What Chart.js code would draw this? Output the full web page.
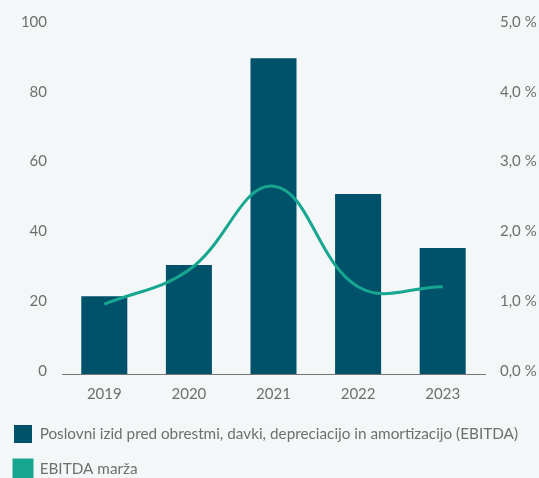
<!DOCTYPE html>
<html>
<head>
<meta charset="utf-8">
<script src="https://cdn.jsdelivr.net/npm/chart.js@4"></script>
<style>
  html, body { margin: 0; padding: 0; background: #f3f7f7; }
  #wrap { width: 539px; height: 478px; }
</style>
</head>
<body>
<div id="wrap"><canvas id="chart"></canvas></div>
<script>
const years = ['2019', '2020', '2021', '2022', '2023'];
const ebitda = [22.3, 31.2, 90.5, 51.6, 36.1];
const margin = [1.0, 1.49, 2.69, 1.25, 1.25];
const barLabel = 'Poslovni izid pred obrestmi, davki, depreciacijo in amortizacijo (EBITDA)';
const lineLabel = 'EBITDA marža';

const textColor = '#6f6f6f';
const fontFamily = 'Lato, "Open Sans", sans-serif';

var ctx = document.getElementById('chart').getContext('2d');
var chart = new Chart(ctx, {
    type: 'bar',
    data: {
        labels: years,
        datasets: [{
            label: barLabel,
            data: ebitda,
            backgroundColor: '#00526b',
            barPercentage: 0.544,
            categoryPercentage: 1,
            yAxisID: 'y',
            order: 1
        }, {
            type: 'line',
            label: lineLabel,
            data: margin,
            borderColor: '#17a690',
            backgroundColor: '#17a690',
            borderWidth: 3,
            pointRadius: 0,
            tension: 0.4,
            fill: false,
            yAxisID: 'y1',
            order: 0
        }]
    },
    options: {
        responsive: true,
        maintainAspectRatio: false,
        animation: false,
        layout: { padding: { top: 25, left: -3, right: 0, bottom: -10 } },
        plugins: {
            tooltip: { enabled: false },
            legend: {
                position: 'bottom',
                align: 'start',
                labels: {
                    boxWidth: 18,
                    boxHeight: 18,
                    padding: 17,
                    color: textColor,
                    font: { family: fontFamily, size: 15.3 },
                    sort: (a, b) => a.datasetIndex - b.datasetIndex
                }
            }
        },
        scales: {
            x: {
                grid: { display: false, drawTicks: false },
                border: { display: true, color: '#777777', width: 1 },
                ticks: { color: textColor, padding: 11, font: { family: fontFamily, size: 15 } },
                afterFit: function(axis) { axis.height = 34; }
            },
            y: {
                position: 'left',
                min: 0,
                max: 100,
                grid: { display: false, drawTicks: false },
                border: { display: false },
                ticks: { stepSize: 20, color: textColor, padding: 15, labelOffset: -3,
                    font: { family: fontFamily, size: 15 } },
                afterFit: function(axis) { axis.width = 65; }
            },
            y1: {
                position: 'right',
                min: 0,
                max: 5,
                grid: { display: false, drawTicks: false },
                border: { display: false },
                ticks: { stepSize: 1, color: textColor, padding: 15, labelOffset: -3,
                    font: { family: fontFamily, size: 15 },
                    callback: function(value) { return value.toFixed(1).replace('.', ',') + ' %'; } },
                afterFit: function(axis) { axis.width = 54; }
            }
        }
    }
});
</script>
</body>
</html>
